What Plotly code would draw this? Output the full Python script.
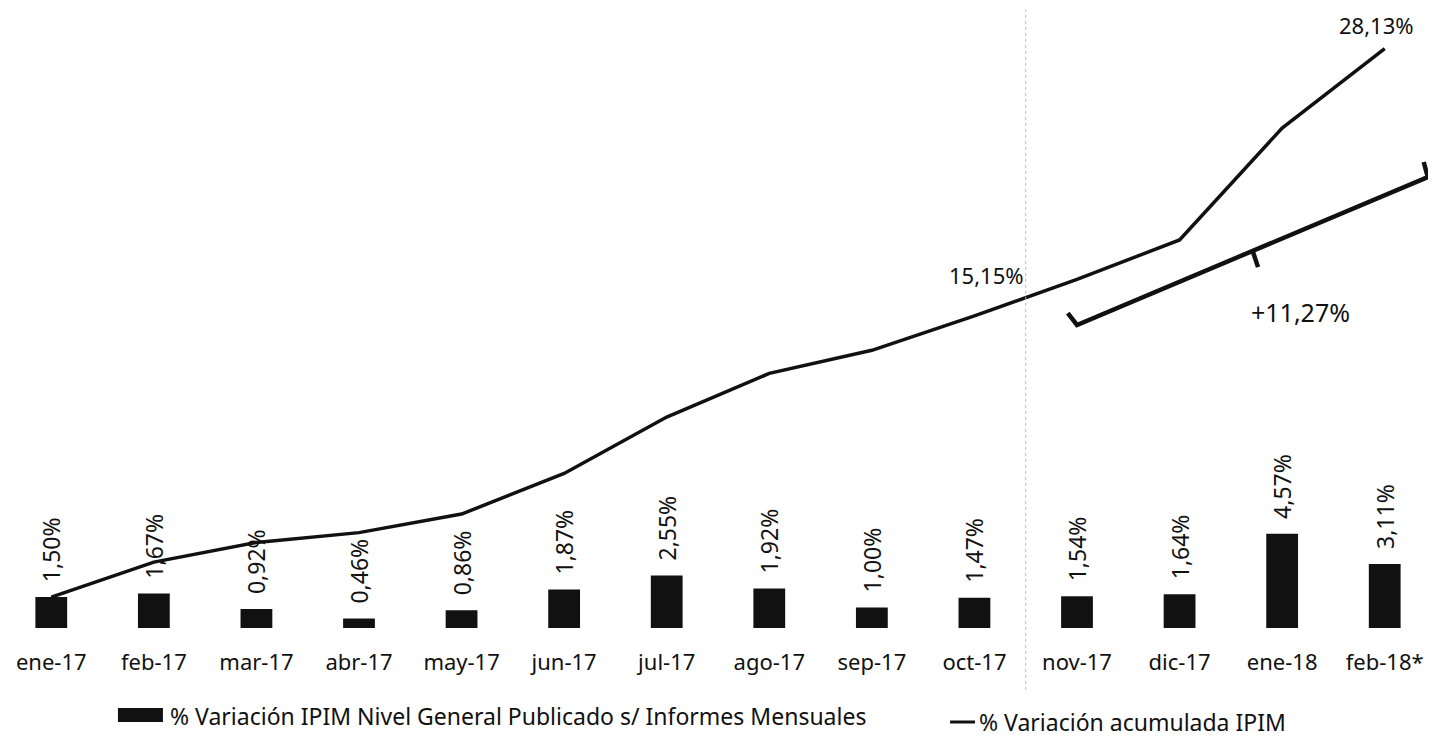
import plotly.graph_objects as go

# Data
meses = ["ene-17", "feb-17", "mar-17", "abr-17", "may-17", "jun-17", "jul-17",
         "ago-17", "sep-17", "oct-17", "nov-17", "dic-17", "ene-18", "feb-18*"]
var_mensual = [1.50, 1.67, 0.92, 0.46, 0.86, 1.87, 2.55,
               1.92, 1.00, 1.47, 1.54, 1.64, 4.57, 3.11]
var_acumulada = [1.50, 3.20, 4.15, 4.63, 5.53, 7.50, 10.24,
                 12.36, 13.48, 15.15, 16.92, 18.84, 24.27, 28.13]
etiqueta_mensual = ["1,50%", "1,67%", "0,92%", "0,46%", "0,86%", "1,87%", "2,55%",
                    "1,92%", "1,00%", "1,47%", "1,54%", "1,64%", "4,57%", "3,11%"]
salto = "+11,27%"

FONT = "Noto Sans"
INK = "#111111"
x_idx = list(range(len(meses)))

# page body adds 8px margin, so the figure is a bit smaller than the window
W, H = 1428, 733

fig = go.Figure()

# Monthly variation bars, labels rotated above
fig.add_trace(go.Bar(
    x=x_idx, y=var_mensual,
    marker=dict(color=INK, line=dict(width=0)),
    text=["\u00a0\u00a0" + t for t in etiqueta_mensual],
    textposition="outside", textangle=-90, constraintext="none",
    cliponaxis=False,
    textfont=dict(family=FONT, size=23, color=INK),
    width=0.31, showlegend=False,
))

# Accumulated variation line
fig.add_trace(go.Scatter(
    x=x_idx, y=var_acumulada, mode="lines",
    line=dict(color=INK, width=3.5),
    showlegend=False, cliponaxis=False,
))

# Labels on the line
fig.add_annotation(x=9, y=var_acumulada[9], text="15,15%", showarrow=False,
                   xanchor="center", yanchor="bottom", xshift=12, yshift=24,
                   font=dict(family=FONT, size=22, color=INK))
fig.add_annotation(x=13, y=var_acumulada[13], text="28,13%", showarrow=False,
                   xanchor="center", yanchor="bottom", xshift=-8, yshift=7,
                   font=dict(family=FONT, size=22, color=INK))

# Hand-drawn bracket showing the jump
fig.add_shape(type="path", xref="x", yref="y",
              path="M 9.91 15.29 L 10.00 14.71 L 13.42 21.89 L 13.38 22.62",
              line=dict(color=INK, width=4.5))
fig.add_shape(type="line", xref="x", yref="y",
              x0=11.716, y0=18.25, x1=11.765, y1=17.52,
              line=dict(color=INK, width=4.5))
fig.add_annotation(x=12.18, y=15.34, text=salto, showarrow=False,
                   font=dict(family=FONT, size=25, color=INK))

# Dotted separator between oct-17 and nov-17
fig.add_shape(type="line", xref="x", yref="paper",
              x0=9.5, x1=9.5, y0=-0.1, y1=1.0,
              line=dict(color="#b5b5b5", width=1, dash="dot"))

# Legend drawn under the axis
fig.add_shape(type="rect", xref="paper", yref="paper",
              x0=0.0770, x1=0.1085, y0=-0.1294, y1=-0.1521,
              fillcolor=INK, line=dict(width=0))
fig.add_annotation(x=0.1120, y=-0.1424, xref="paper", yref="paper",
                   text="% Variación IPIM Nivel General Publicado s/ Informes Mensuales",
                   showarrow=False, xanchor="left", yanchor="middle",
                   font=dict(family=FONT, size=23, color=INK))
fig.add_shape(type="line", xref="paper", yref="paper",
              x0=0.6597, x1=0.6772, y0=-0.1521, y1=-0.1521,
              line=dict(color=INK, width=3))
fig.add_annotation(x=0.6786, y=-0.1521, xref="paper", yref="paper",
                   text="% Variación acumulada IPIM",
                   showarrow=False, xanchor="left", yanchor="middle",
                   font=dict(family=FONT, size=23, color=INK))

fig.update_layout(
    width=W, height=H,
    margin=dict(l=0, r=0, t=2, b=113),
    paper_bgcolor="white", plot_bgcolor="white",
    xaxis=dict(
        tickmode="array", tickvals=x_idx, ticktext=meses,
        range=[-0.422, 13.5], showgrid=False, zeroline=False, showline=False,
        ticks="", ticklabelstandoff=19,
        tickfont=dict(family=FONT, size=22, color=INK),
    ),
    yaxis=dict(range=[0, 30.0], visible=False, showgrid=False, zeroline=False),
)

fig.write_html("out.html")
